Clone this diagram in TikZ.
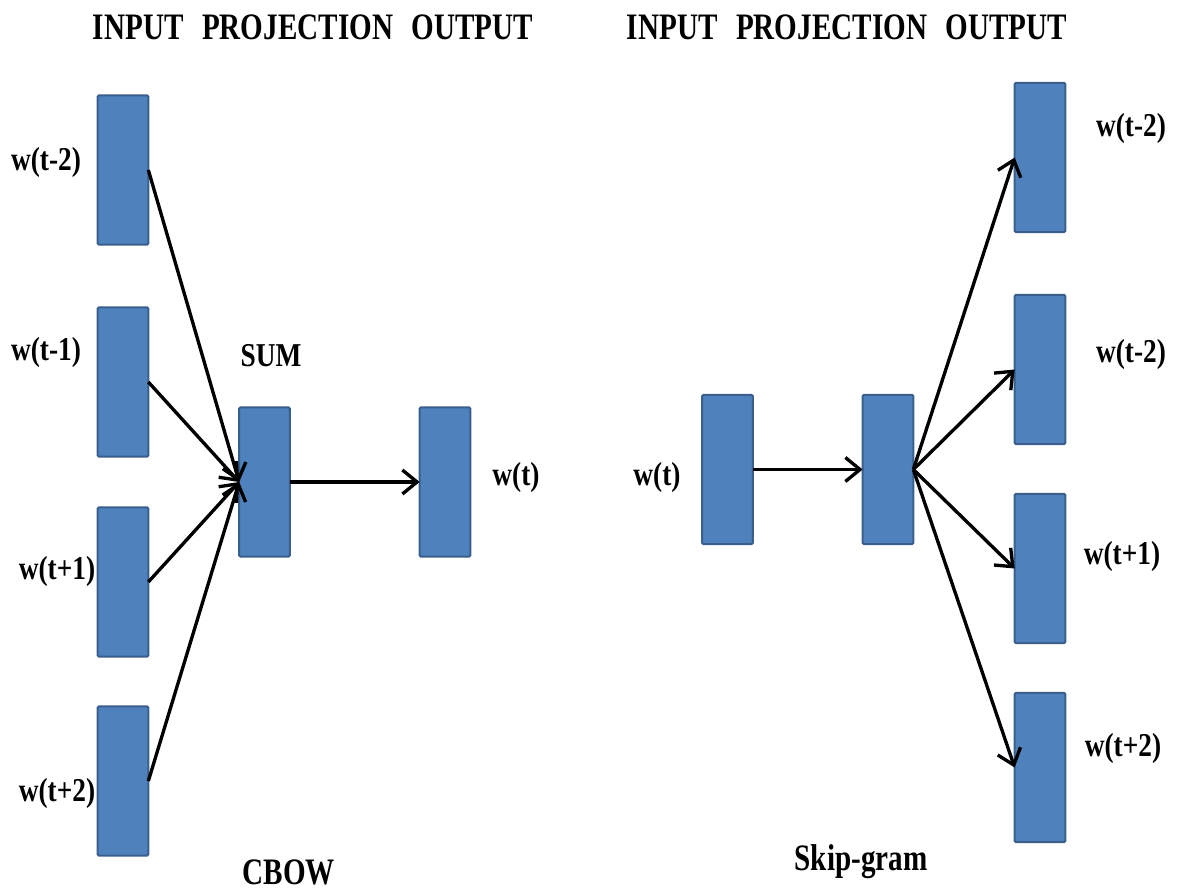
\documentclass[tikz,border=0pt]{standalone}
\usepackage{fontspec}
\usetikzlibrary{arrows.meta}
\newfontfamily\labfont[FakeStretch=0.82]{Liberation Serif}
\newfontfamily\headfont[FakeStretch=0.78]{Liberation Serif}
\definecolor{boxfill}{HTML}{4F81BD}
\definecolor{boxedge}{HTML}{3A5F8C}
\begin{document}
\begin{tikzpicture}[x=0.75pt,y=-0.75pt,
  vec/.style={draw=boxedge,fill=boxfill,line width=1.6pt,rounded corners=1pt,
    minimum width=38pt,minimum height=112pt,inner sep=0pt,outer sep=0pt},
  lab/.style={font=\labfont\bfseries\fontsize{25}{30}\selectfont,inner sep=0pt},
  title/.style={font=\headfont\bfseries\fontsize{28}{33}\selectfont,inner sep=0pt},
  head/.style={font=\headfont\bfseries\fontsize{28}{33}\selectfont,inner sep=0pt},
  link/.style={line width=2.5pt,-{Straight Barb[length=11pt,width=18pt,line width=2.5pt]}}]
\useasboundingbox (0,0) rectangle (1179,891);

% CBOW
\node[vec] (i1) at (123,170) {};
\node[vec] (i2) at (123,382) {};
\node[vec] (i3) at (123,582) {};
\node[vec] (i4) at (123,781) {};
\node[vec] (p1) at (264.5,482) {};
\node[vec] (o1) at (445,482) {};
\foreach \n in {i1,i2,i3,i4} \draw[link] (\n.east) -- (p1.west);
\draw[link] (p1.east) -- (o1.west);

\node[head] (h1) at (313,27) {INPUT\hspace{0.5em}PROJECTION\hspace{0.5em}OUTPUT};
\node[lab] (l1) at (46,162) {w(t-2)};
\node[lab] (l2) at (46,352) {w(t-1)};
\node[lab] (l3) at (57,571) {w(t+1)};
\node[lab] (l4) at (57,793) {w(t+2)};
\node[lab] (sum) at (271,356) {SUM};
\node[lab] (lw1) at (516,477) {w(t)};
\node[title] (cbow) at (289,872) {CBOW};

% Skip-gram
\node[vec] (si) at (727.5,469.5) {};
\node[vec] (sp) at (888,469.5) {};
\node[vec] (so1) at (1040,157.5) {};
\node[vec] (so2) at (1040,369.5) {};
\node[vec] (so3) at (1040,568.5) {};
\node[vec] (so4) at (1040,767.5) {};
\draw[link] (si.east) -- (sp.west);
\foreach \n in {so1,so2,so3,so4} \draw[link] (sp.east) -- (\n.west);

\node[head] (h2) at (847,27) {INPUT\hspace{0.5em}PROJECTION\hspace{0.5em}OUTPUT};
\node[lab] (lw2) at (657,477) {w(t)};
\node[lab] (r1) at (1131,128) {w(t-2)};
\node[lab] (r2) at (1131,354) {w(t-2)};
\node[lab] (r3) at (1122,556) {w(t+1)};
\node[lab] (r4) at (1123,748) {w(t+2)};
\node[title] (skip) at (861,862) {Skip-gram};
\end{tikzpicture}
\end{document}
